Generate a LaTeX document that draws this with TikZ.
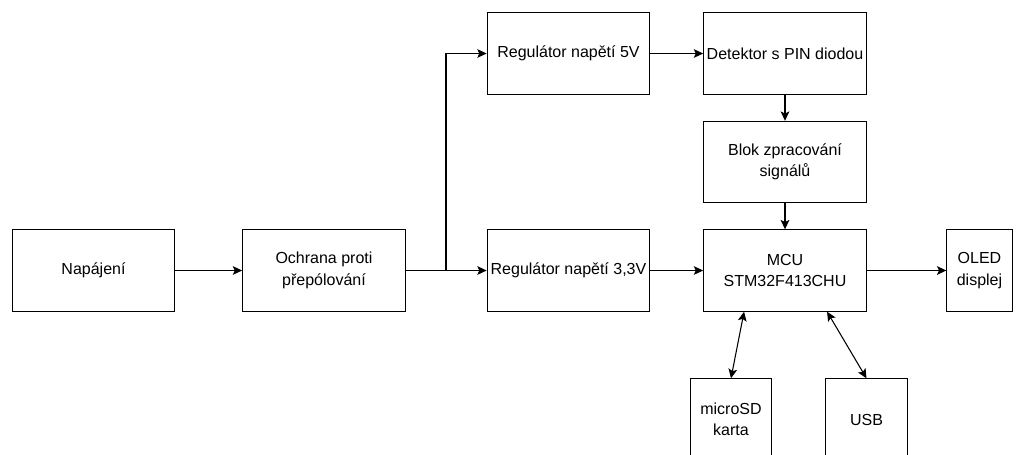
\documentclass[tikz,border=0pt]{standalone}
\usepackage{fontspec}
\setmainfont{Liberation Sans}
\usetikzlibrary{positioning}
\usetikzlibrary{calc}
\usetikzlibrary{arrows.meta}
\tikzset{blok/.style={draw,rectangle,minimum width=122pt,minimum height=61pt,align=center,font=\fontsize{12}{16}\selectfont,inner sep=1pt},
pijl/.style={-{Stealth[length=7pt,width=6.5pt,inset=1.5pt]}},
dvojpijl/.style={{Stealth[length=7pt,width=6.5pt,inset=1.5pt]}-{Stealth[length=7pt,width=6.5pt,inset=1.5pt]}},
every picture/.style={line width=0.8pt}}

\begin{document}
\begin{tikzpicture}[x=0.75pt,y=-0.75pt]
\useasboundingbox (0,0) rectangle (1017,454);
\node (nap) at (93.5,270.5) [blok] {Napájení};
\node (ochr) at (324,270.5) [blok] {Ochrana proti\\přepólování};
\node (reg5) at (568.5,53.5) [blok] {Regulátor napětí 5V};
\node (det) at (785,53.5) [blok] {Detektor s PIN diodou};
\node (zprac) at (785,162) [blok] {Blok zpracování\\signálů};
\node (reg33) at (568.5,270.5) [blok] {Regulátor napětí 3,3V};
\node (mcu) at (785,270.5) [blok] {MCU\\STM32F413CHU};
\node (oled) at (979.5,270.5) [blok,minimum width=49pt] {OLED\\displej};
\node (sd) at (731,419.5) [blok,minimum width=61pt] {microSD\\karta};
\node (usb) at (866.5,419.5) [blok,minimum width=61pt] {USB};

\coordinate (split) at (446,270.5);

\draw[pijl] (nap) -- (ochr);
\draw[pijl] (ochr) -- (reg33);
\draw[pijl] (split) |- (reg5);
\draw[pijl] (reg5) -- (det);
\draw[pijl] (det) -- (zprac);
\draw[pijl] (zprac) -- (mcu);
\draw[pijl] (reg33) -- (mcu);
\draw[pijl] (mcu) -- (oled);

%\draw[dvojpijl] (sd) -- (mcu);
\draw[dvojpijl] (sd.north) -- ($(mcu.south west)!0.25!(mcu.south east)$);
\draw[dvojpijl] (usb.north) -- ($(mcu.south west)!0.757!(mcu.south east)$);
\end{tikzpicture}
\end{document}
